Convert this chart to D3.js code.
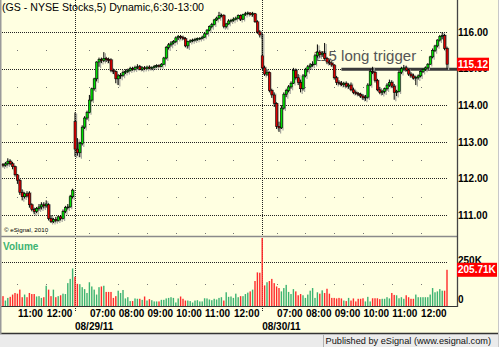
<!DOCTYPE html>
<html>
<head>
<meta charset="utf-8">
<script src="https://cdn.jsdelivr.net/npm/d3@7"></script>
<style>
  html, body { margin: 0; padding: 0; background: #fff; }
  svg { display: block; font-family: "Liberation Sans", Arial, sans-serif; }
</style>
</head>
<body>
<div id="chart"></div>
<script>
// sessions shown (5 minute bars)
const sessionDates = ["08/26/11", "08/29/11", "08/30/11"];
const sessionStart = ["10:30", "06:30", "06:30"];
const sessionBars = [30, 78, 78];

const hourTicks = [
  "08/26/11 11:00", "08/26/11 12:00",
  "08/29/11 07:00", "08/29/11 08:00", "08/29/11 09:00", "08/29/11 10:00", "08/29/11 11:00", "08/29/11 12:00",
  "08/30/11 07:00", "08/30/11 08:00", "08/30/11 09:00", "08/30/11 10:00", "08/30/11 11:00", "08/30/11 12:00"
];
const dateTicks = ["08/29/11 06:30", "08/30/11 06:30"];
const priceTicks = [111, 112, 113, 114, 115, 116];
const volumeTicks = [0, 250];

const open = [
  // 08/26
  112.38,112.36,112.40,112.47,112.40,112.32,112.10,111.95,111.62,111.50,
  111.58,111.60,111.28,111.15,111.10,111.18,111.22,111.28,111.25,111.28,
  110.90,110.82,110.88,110.85,110.95,110.90,111.10,111.20,111.22,111.50,
  // 08/29
  113.55,112.80,112.70,112.95,113.40,113.65,113.80,114.14,114.45,114.72,
  115.18,115.25,115.22,115.28,115.25,115.24,114.95,114.92,114.72,114.80,
  114.82,114.90,114.92,114.95,115.00,114.98,115.03,115.06,114.98,115.02,
  115.00,115.04,115.01,115.03,115.06,115.08,115.06,115.12,115.29,115.58,
  115.65,115.70,115.74,115.84,115.88,115.85,115.82,115.62,115.74,115.76,
  115.78,115.80,115.82,115.83,115.86,115.95,116.05,116.15,116.20,116.33,
  116.38,116.45,116.46,116.15,116.22,116.30,116.32,116.35,116.38,116.45,
  116.35,116.48,116.50,116.52,116.48,116.50,116.28,116.00,
  // 08/30
  115.35,115.02,114.85,114.90,114.40,114.28,114.05,113.42,113.38,113.92,
  114.30,114.40,114.50,114.60,114.95,114.75,114.62,114.45,114.80,114.98,
  115.05,115.10,115.12,115.35,115.45,115.38,115.42,115.28,115.18,115.15,
  115.10,114.75,114.62,114.60,114.56,114.60,114.52,114.55,114.42,114.35,
  114.32,114.30,114.25,114.20,114.22,114.55,114.92,114.90,114.68,114.42,
  114.35,114.38,114.45,114.55,114.62,114.52,114.35,114.38,114.90,115.00,
  115.02,114.96,114.85,114.80,114.74,114.76,114.80,114.92,114.98,115.02,
  115.12,115.32,115.50,115.62,115.78,115.88,115.90,115.55
];
const high = [
  112.42,112.45,112.55,112.52,112.45,112.35,112.12,111.98,111.70,111.62,
  111.65,111.65,111.32,111.20,111.22,111.30,111.35,111.35,111.40,111.32,
  111.00,110.92,110.95,110.98,111.00,111.15,111.25,111.30,111.55,111.72,
  113.80,113.10,113.00,113.45,113.70,113.85,114.28,114.48,114.75,115.20,
  115.30,115.30,115.45,115.32,115.30,115.28,115.00,114.95,114.85,114.88,
  114.95,114.98,115.00,115.05,115.05,115.08,115.12,115.10,115.06,115.07,
  115.08,115.09,115.06,115.10,115.12,115.12,115.15,115.32,115.62,115.70,
  115.75,115.78,115.88,115.92,115.92,115.90,115.86,115.76,115.80,115.82,
  115.84,115.85,115.86,115.90,115.98,116.08,116.18,116.25,116.36,116.42,
  116.55,116.50,116.48,116.25,116.35,116.36,116.40,116.42,116.48,116.48,
  116.50,116.55,116.56,116.54,116.55,116.52,116.32,116.05,
  115.97,115.08,114.98,114.92,114.45,114.35,114.08,113.55,114.00,114.35,
  114.45,114.55,114.65,115.02,115.00,114.85,114.70,114.85,115.02,115.10,
  115.15,115.20,115.40,115.66,115.50,115.48,115.70,115.32,115.25,115.20,
  115.12,114.80,114.68,114.66,114.64,114.65,114.60,114.62,114.48,114.40,
  114.36,114.34,114.30,114.28,114.60,114.98,115.05,114.94,114.72,114.50,
  114.42,114.48,114.60,114.70,114.68,114.58,114.42,114.95,115.05,115.10,
  115.08,115.00,114.90,114.86,114.80,114.84,114.95,115.00,115.06,115.15,
  115.35,115.55,115.65,115.80,115.92,116.00,115.95,115.60
];
const low = [
  112.30,112.32,112.35,112.36,112.25,112.05,111.85,111.55,111.40,111.45,
  111.48,111.20,111.10,111.02,111.05,111.12,111.15,111.18,111.20,110.85,
  110.78,110.78,110.80,110.82,110.85,110.88,111.05,111.15,111.20,111.45,
  112.60,112.62,112.58,112.90,113.35,113.60,113.78,114.10,114.40,114.65,
  115.05,115.15,115.18,115.18,115.15,114.90,114.85,114.60,114.55,114.72,
  114.78,114.85,114.88,114.92,114.94,114.95,114.98,114.96,114.94,114.96,
  114.97,114.98,114.97,115.00,115.02,115.03,115.04,115.10,115.25,115.52,
  115.60,115.66,115.70,115.78,115.80,115.78,115.58,115.55,115.70,115.72,
  115.74,115.76,115.78,115.80,115.84,115.92,116.02,116.10,116.18,116.30,
  116.35,116.40,116.10,116.10,116.20,116.26,116.28,116.32,116.35,116.30,
  116.33,116.44,116.46,116.45,116.42,116.25,115.95,115.85,
  114.98,114.80,114.80,114.35,114.20,113.95,113.35,113.27,113.35,113.88,
  114.22,114.35,114.45,114.58,114.70,114.55,114.35,114.40,114.76,114.90,
  115.00,115.05,115.10,115.30,115.30,115.32,115.25,115.12,115.10,115.05,
  114.70,114.55,114.55,114.52,114.50,114.48,114.45,114.38,114.30,114.28,
  114.25,114.20,114.14,114.12,114.18,114.52,114.85,114.62,114.38,114.30,
  114.28,114.32,114.40,114.50,114.48,114.15,114.25,114.35,114.85,114.95,
  114.92,114.80,114.75,114.70,114.55,114.70,114.76,114.88,114.94,115.00,
  115.10,115.28,115.45,115.58,115.74,115.80,115.50,115.00
];
const close = [
  112.36,112.40,112.47,112.40,112.32,112.10,111.95,111.62,111.50,111.58,
  111.52,111.28,111.15,111.10,111.18,111.22,111.28,111.25,111.30,110.90,
  110.82,110.88,110.85,110.95,110.90,111.10,111.20,111.22,111.50,111.68,
  112.80,112.70,112.95,113.40,113.65,113.80,114.14,114.45,114.72,115.18,
  115.25,115.22,115.28,115.25,115.22,114.95,114.92,114.72,114.80,114.82,
  114.90,114.92,114.95,115.00,114.98,115.03,115.05,114.98,115.02,115.00,
  115.04,115.01,115.03,115.06,115.08,115.06,115.12,115.29,115.58,115.65,
  115.70,115.74,115.84,115.88,115.85,115.82,115.62,115.74,115.76,115.78,
  115.80,115.82,115.83,115.86,115.95,116.05,116.15,116.20,116.33,116.38,
  116.45,116.46,116.15,116.22,116.30,116.32,116.35,116.38,116.45,116.35,
  116.48,116.50,116.52,116.48,116.50,116.28,116.00,115.92,
  115.02,114.85,114.90,114.40,114.28,114.05,113.42,113.38,113.92,114.30,
  114.40,114.50,114.60,114.95,114.75,114.62,114.45,114.80,114.98,115.05,
  115.10,115.12,115.35,115.45,115.38,115.42,115.28,115.18,115.15,115.10,
  114.75,114.62,114.60,114.56,114.60,114.52,114.55,114.42,114.35,114.32,
  114.30,114.25,114.20,114.22,114.55,114.92,114.90,114.68,114.42,114.35,
  114.38,114.45,114.55,114.62,114.52,114.35,114.38,114.90,115.00,115.02,
  114.96,114.85,114.80,114.74,114.76,114.80,114.92,114.98,115.02,115.12,
  115.32,115.50,115.62,115.78,115.88,115.90,115.55,115.12
];
// volume in thousands
const volume = [
  56,31,46,52,65,74,70,93,50,65, 50,74,68,68,54,56,46,50,115,93,
  56,93,50,56,61,70,68,130,154,213,
  166,126,124,107,96,74,135,111,93,65, 107,111,115,80,80,80,46,56,87,74,
  91,43,50,28,28,43,41,41,35,54, 31,39,33,26,26,26,35,35,43,46,
  50,46,20,43,54,41,31,31,28,20, 31,33,26,26,44,43,37,33,41,37,
  46,50,31,78,52,54,46,70,50,56, 56,68,76,83,93,142,191,189,
  386,117,135,142,154,130,111,102,83,102, 120,80,68,96,83,61,68,61,46,65,
  87,102,46,78,70,89,74,98,70,46, 46,43,46,43,31,28,46,31,43,26,
  41,41,44,26,52,26,44,44,44,39, 41,41,50,43,74,63,61,44,50,41,
  61,50,41,41,65,50,50,50,50,50, 65,102,78,83,96,87,87,205.71
];

const triggerPrice = 115.00;
const triggerFrom = "08/30/11 09:15";
const triggerText = "115 long trigger";

// build bar keys (date + time) for each session
const barKeys = [];
sessionDates.forEach((d, s) => {
  let [h, m] = sessionStart[s].split(":").map(Number);
  for (let i = 0; i < sessionBars[s]; i++) {
    barKeys.push(d + " " + String(h).padStart(2, "0") + ":" + String(m).padStart(2, "0"));
    m += 5;
    if (m >= 60) { m -= 60; h++; }
  }
});
const bars = barKeys.map((k, i) => ({ key: k, o: open[i], h: high[i], l: low[i], c: close[i], v: volume[i] }));

const width = 499, height = 347;
const bg = "#ffffe1";
const upColor = "#00e000", downColor = "#dd0000";
const volUp = "#3cb371", volDown = "#ff2a2a";

const x = d3.scalePoint().domain(barKeys).range([3, 447]);
const y = d3.scaleLinear().domain([111, 116]).range([215, 32]);
const vy = d3.scaleLinear().domain([0, 250]).range([306, 262]);

const svg = d3.select("#chart").append("svg")
  .attr("width", width)
  .attr("height", height);

// background and footer
svg.append("rect").attr("width", width).attr("height", 334).attr("fill", bg);
svg.append("rect").attr("y", 334).attr("width", width).attr("height", 13).attr("fill", "#ebebeb");
svg.append("line").attr("x1", 323.5).attr("x2", 323.5).attr("y1", 335).attr("y2", 347).attr("stroke", "#b0b0b0");

// horizontal dotted grid
const gridEnd = x(barKeys[barKeys.length - 1]) + 1;
svg.selectAll(".pgrid")
  .data(priceTicks)
  .enter()
  .append("line")
  .attr("class", "pgrid")
  .attr("x1", 2).attr("x2", gridEnd)
  .attr("y1", d => Math.round(y(d)) + 0.5)
  .attr("y2", d => Math.round(y(d)) + 0.5)
  .attr("stroke", "#222")
  .attr("stroke-dasharray", "1,1");

svg.append("line")
  .attr("x1", 2).attr("x2", gridEnd)
  .attr("y1", Math.round(vy(250)) + 0.5).attr("y2", Math.round(vy(250)) + 0.5)
  .attr("stroke", "#222")
  .attr("stroke-dasharray", "1,1");

// small dots at half levels on every hour
const halfLevels = [110.5, 111.5, 112.5, 113.5, 114.5, 115.5];
hourTicks.forEach(k => {
  const cx = Math.round(x(k));
  halfLevels.forEach(p => {
    svg.append("rect").attr("x", cx).attr("y", Math.round(y(p))).attr("width", 1).attr("height", 1).attr("fill", "#777");
  });
  svg.append("rect").attr("x", cx).attr("y", Math.round(vy(125))).attr("width", 1).attr("height", 1).attr("fill", "#777");
});

// day separators
svg.selectAll(".daysep")
  .data(dateTicks)
  .enter()
  .append("line")
  .attr("class", "daysep")
  .attr("x1", d => Math.round(x(d)) + 0.5)
  .attr("x2", d => Math.round(x(d)) + 0.5)
  .attr("y1", 0).attr("y2", 311)
  .attr("stroke", "#222")
  .attr("stroke-dasharray", "1,1");

// trigger annotation
svg.append("text")
  .attr("x", 313).attr("y", 61)
  .style("font-size", "15px")
  .attr("fill", "#555")
  .text(triggerText);

svg.append("line")
  .attr("x1", x(triggerFrom)).attr("x2", 457)
  .attr("y1", y(triggerPrice) + 0.7).attr("y2", y(triggerPrice) + 0.7)
  .attr("stroke", "#3a3a3a")
  .attr("stroke-width", 3);

// candles, with the soft grey shadow eSignal draws to the right
const candle = svg.append("g").attr("id", "candles");
candle.selectAll(".shadow")
  .data(bars)
  .enter()
  .append("line")
  .attr("class", "shadow")
  .attr("x1", d => x(d.key) + 1.6).attr("x2", d => x(d.key) + 1.6)
  .attr("y1", d => y(d.h) + 1).attr("y2", d => y(d.l) + 1.5)
  .attr("stroke", "#a8a8a0")
  .attr("stroke-width", 1.2);

candle.selectAll(".wick")
  .data(bars)
  .enter()
  .append("line")
  .attr("class", "wick")
  .attr("x1", d => x(d.key)).attr("x2", d => x(d.key))
  .attr("y1", d => y(d.h)).attr("y2", d => y(d.l))
  .attr("stroke", "#000")
  .attr("stroke-width", 1);

candle.selectAll(".body")
  .data(bars)
  .enter()
  .append("rect")
  .attr("class", "body")
  .attr("x", d => x(d.key) - 1)
  .attr("width", 2.2)
  .attr("y", d => y(Math.max(d.o, d.c)))
  .attr("height", d => Math.max(0.8, Math.abs(y(d.o) - y(d.c))))
  .attr("fill", d => d.c >= d.o ? upColor : downColor)
  .attr("stroke", "#000")
  .attr("stroke-width", 0.6);

// volume bars
svg.selectAll(".vol")
  .data(bars)
  .enter()
  .append("rect")
  .attr("class", "vol")
  .attr("x", d => x(d.key) - 0.7)
  .attr("width", 1.4)
  .attr("y", d => vy(d.v))
  .attr("height", d => vy(0) - vy(d.v))
  .attr("fill", d => d.c >= d.o ? volUp : volDown);

// frame lines
svg.append("line").attr("x1", 0).attr("x2", 457).attr("y1", 236.5).attr("y2", 236.5).attr("stroke", "#8a8a8a").attr("stroke-width", 1.5);
svg.append("line").attr("x1", 0).attr("x2", 457).attr("y1", 306.5).attr("y2", 306.5).attr("stroke", "#333");
svg.append("line").attr("x1", 457.5).attr("x2", 457.5).attr("y1", 0).attr("y2", 307).attr("stroke", "#444").attr("stroke-width", 1.3);
svg.append("line").attr("x1", 0).attr("x2", width).attr("y1", 333.5).attr("y2", 333.5).attr("stroke", "#333").attr("stroke-width", 1.5);
svg.append("line").attr("x1", 0.75).attr("x2", 0.75).attr("y1", 0).attr("y2", 334).attr("stroke", "#9a9a9a").attr("stroke-width", 1.5);
svg.append("line").attr("x1", 498.5).attr("x2", 498.5).attr("y1", 0).attr("y2", 347).attr("stroke", "#c8c8c8");

// price axis labels
const priceAxis = d3.axisRight(y)
  .tickValues(priceTicks)
  .tickFormat(d3.format(".2f"))
  .tickSize(0)
  .tickPadding(1);
svg.append("g")
  .attr("transform", "translate(457,0)")
  .call(priceAxis)
  .call(g => g.select(".domain").remove())
  .selectAll("text")
  .style("font-size", "10px")
  .style("font-weight", "bold")
  .style("font-family", "'Liberation Sans', Arial, sans-serif")
  .attr("fill", "#000");

const volAxis = d3.axisRight(vy)
  .tickValues(volumeTicks)
  .tickFormat(d => d === 0 ? "0" : d + "K")
  .tickSize(0)
  .tickPadding(1);
svg.append("g")
  .attr("transform", "translate(457,0)")
  .call(volAxis)
  .call(g => g.select(".domain").remove())
  .selectAll("text")
  .style("font-size", "10px")
  .style("font-weight", "bold")
  .style("font-family", "'Liberation Sans', Arial, sans-serif")
  .attr("fill", "#000")
  .attr("dy", d => d === 0 ? "-0.35em" : "0.15em");

// time axis labels
const timeAxis = d3.axisBottom(x)
  .tickValues(hourTicks)
  .tickFormat(k => k.split(" ")[1])
  .tickSize(0)
  .tickPadding(0);
svg.append("g")
  .attr("transform", "translate(0,306)")
  .call(timeAxis)
  .call(g => g.select(".domain").remove())
  .selectAll("text")
  .attr("text-anchor", "start")
  .attr("y", 11)
  .attr("dy", 0)
  .style("font-size", "10px")
  .style("font-weight", "bold")
  .style("font-family", "'Liberation Sans', Arial, sans-serif")
  .attr("fill", "#000");

svg.selectAll(".datelabel")
  .data(dateTicks)
  .enter()
  .append("text")
  .attr("class", "datelabel")
  .attr("x", d => x(d))
  .attr("y", 330)
  .style("font-size", "10px")
  .style("font-weight", "bold")
  .attr("fill", "#000")
  .text(d => d.split(" ")[0]);

// last value boxes
const lastBar = bars[bars.length - 1];
svg.append("rect")
  .attr("x", 457).attr("y", y(lastBar.c) - 6.5)
  .attr("width", 32).attr("height", 13)
  .attr("fill", "#ff0000");
svg.append("text")
  .attr("x", 458).attr("y", y(lastBar.c) + 3.6)
  .style("font-size", "10px").style("font-weight", "bold")
  .attr("fill", "#fff")
  .text(lastBar.c.toFixed(2));

svg.append("rect")
  .attr("x", 457).attr("y", vy(lastBar.v) - 7)
  .attr("width", 40).attr("height", 14)
  .attr("fill", "#ff0000");
svg.append("text")
  .attr("x", 458).attr("y", vy(lastBar.v) + 3.6)
  .style("font-size", "10px").style("font-weight", "bold")
  .attr("fill", "#fff")
  .text(lastBar.v.toFixed(2) + "K");

// titles
svg.append("text")
  .attr("x", 2).attr("y", 11)
  .style("font-size", "10.6px")
  .attr("fill", "#000")
  .text("(GS - NYSE Stocks,5) Dynamic,6:30-13:00");

svg.append("text")
  .attr("x", 3).attr("y", 250)
  .style("font-size", "10px").style("font-weight", "bold")
  .attr("fill", "#3cb371")
  .text("Volume");

svg.append("text")
  .attr("x", 4).attr("y", 232)
  .style("font-size", "6.2px")
  .attr("fill", "#000")
  .text("\u00a9 eSignal, 2010");

svg.append("text")
  .attr("x", 491).attr("y", 344)
  .attr("text-anchor", "end")
  .style("font-size", "9.2px")
  .attr("fill", "#111")
  .text("Published by eSignal (www.esignal.com)");
</script>
</body>
</html>
